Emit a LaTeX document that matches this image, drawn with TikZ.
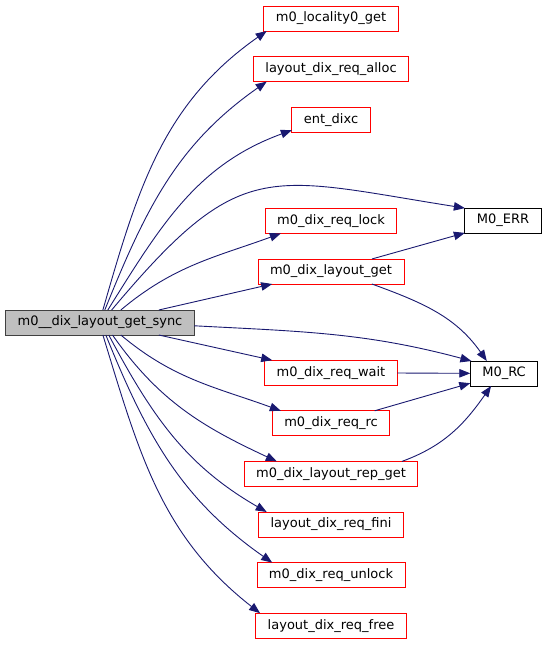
\documentclass[tikz,border=0pt]{standalone}
\usepackage{fontspec}
\newfontfamily\dejavu{DejaVu Sans}
\usetikzlibrary{arrows.meta,positioning}
\definecolor{edgeblue}{HTML}{191970}
\definecolor{callgray}{HTML}{BFBFBF}
\definecolor{callred}{HTML}{FF0000}
\tikzset{
  fn/.style={draw=callred, fill=white, line width=0.8pt, outer sep=0pt, minimum height=25pt, inner xsep=12pt, inner ysep=0pt, font=\dejavu\fontsize{13}{15}\selectfont},
  root/.style={fn, draw=black!75, fill=callgray},
  ext/.style={fn, draw=black},
  call/.style={-{Triangle[length=11pt,width=8.5pt]}, line width=0.9pt, draw=edgeblue}
}

\begin{document}
\begin{tikzpicture}[x=1pt, y=1pt, node distance=25.6pt]
  \useasboundingbox (0,0) rectangle (547,-645);
  \node[root] (sync) at (100,-322.5) {m0\_\_dix\_layout\_get\_sync};
  \node[fn] (loc) at (331,-18.5) {m0\_locality0\_get};
  \node[fn, below=of loc] (alloc) {layout\_dix\_req\_alloc};
  \node[fn, below=of alloc] (ent) {ent\_dixc};
  \node[fn, below=76.2pt of ent] (lock) {m0\_dix\_req\_lock};
  \node[fn, below=of lock] (lget) {m0\_dix\_layout\_get};
  \node[fn, below=76.2pt of lget] (wait) {m0\_dix\_req\_wait};
  \node[fn, below=of wait] (reqrc) {m0\_dix\_req\_rc};
  \node[fn, below=of reqrc] (repget) {m0\_dix\_layout\_rep\_get};
  \node[fn, below=of repget] (fini) {layout\_dix\_req\_fini};
  \node[fn, below=of fini] (unlock) {m0\_dix\_req\_unlock};
  \node[fn, below=of unlock] (free) {layout\_dix\_req\_free};
  \node[ext] (merr) at (503,-220.5) {M0\_ERR};
  \node[ext] (mrc) at (504,-373.5) {M0\_RC};

  % calls out of the sync function
  \draw[call] (sync.77) to[out=74, in=215] (loc.191);
  \draw[call] (sync.69) to[out=68, in=215] (alloc.191);
  \draw[call] (sync.58) to[out=58, in=200] (ent.195);
  \draw[call] (sync.47) to[out=50, in=171, looseness=1.4] (merr.162);
  \draw[call] (sync.31) to[out=40, in=200] (lock.194);
  \draw[call] (sync.12) -- (lget.192);
  \draw[call] (sync.-2) to[out=-3, in=165] (mrc.159);
  \draw[call] (sync.-12) -- (wait.168);
  \draw[call] (sync.-31) to[out=-40, in=160] (reqrc.166);
  \draw[call] (sync.-45) to[out=-55, in=155] (repget.167);
  \draw[call] (sync.-55) to[out=-62, in=150] (fini.169);
  \draw[call] (sync.-65) to[out=-68, in=145] (unlock.168);
  \draw[call] (sync.-77) to[out=-73, in=142] (free.170);

  % second level
  \draw[call] (lget.17) -- (merr.198);
  \draw[call] (lget.-17) to[out=-20, in=125] (mrc.144);
  \draw[call] (wait) -- (mrc);
  \draw[call] (reqrc.16) -- (mrc.196);
  \draw[call] (repget.10) to[out=20, in=235] (mrc.224);
\end{tikzpicture}
\end{document}
